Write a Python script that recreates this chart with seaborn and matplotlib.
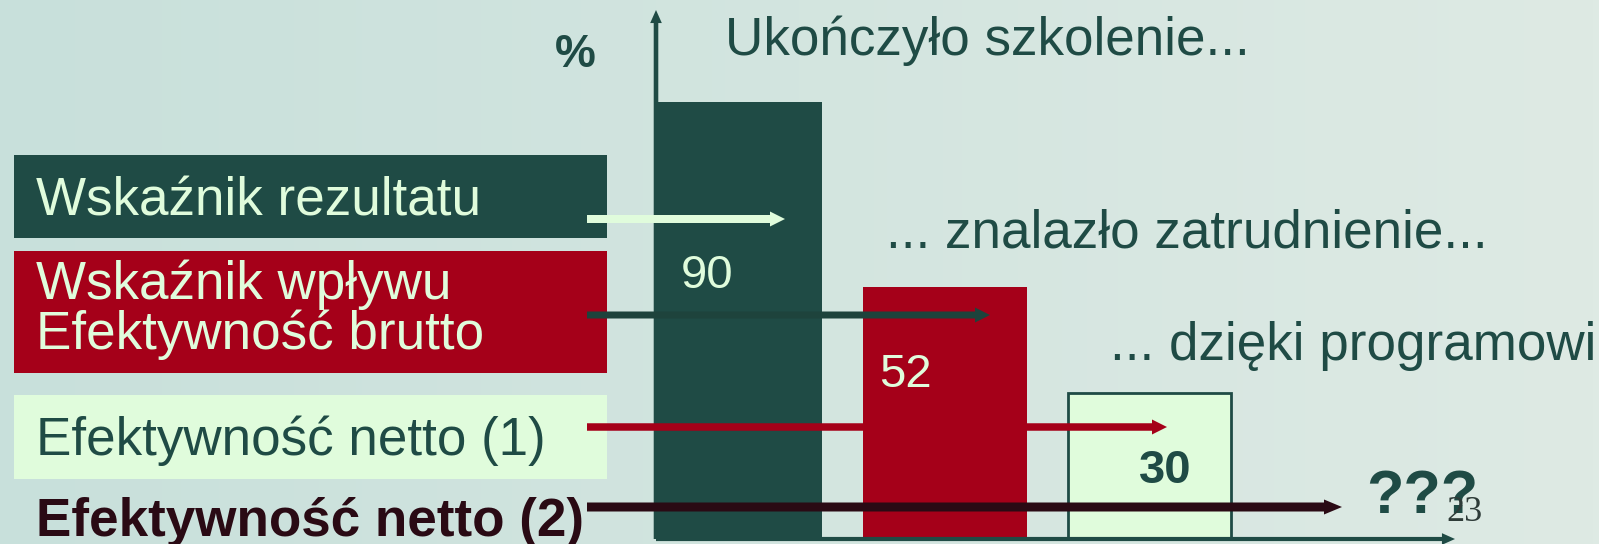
import numpy as np
import matplotlib.pyplot as plt
from matplotlib.patches import Rectangle, FancyArrowPatch
import seaborn as sns

# dane z wykresu
etapy = ["Ukończyło szkolenie...", "... znalazło zatrudnienie...", "... dzięki programowi"]
procent = [90, 52, 30]
wskazniki = ["Wskaźnik rezultatu", "Wskaźnik wpływu\nEfektywność brutto",
             "Efektywność netto (1)", "Efektywność netto (2)"]
numer_slajdu = "23"

ZIELONY = "#1F4B45"
CZERWONY = "#A50019"
JASNY = "#E0FCDC"
BORDO = "#2A0A14"
kolory_slupkow = [ZIELONY, CZERWONY, JASNY]

sns.set_theme(style="white")
plt.rcParams["font.family"] = ["Liberation Sans", "DejaVu Sans"]

W, H = 1618, 544
fig = plt.figure(figsize=(W / 100, H / 100), dpi=100)
fig.patch.set_facecolor("white")

# tlo slajdu (gradient)
bg = fig.add_axes([0, 0, 1599 / W, 1])
lewy = np.array([200, 224, 219]) / 255
prawy = np.array([222, 234, 228]) / 255
t = np.linspace(0, 1, 256)
grad = lewy[None, :] * (1 - t[:, None]) + prawy[None, :] * t[:, None]
bg.imshow(grad[None, :, :], aspect="auto", extent=[0, 1, 0, 1])
bg.axis("off")

# wykres slupkowy
x0, x1, yb, yt = 656, 1455, 539, 10
ax = fig.add_axes([x0 / W, (H - yb) / H, (x1 - x0) / W, (yb - yt) / H])
sns.barplot(x=etapy, y=procent, hue=etapy, palette=kolory_slupkow, width=0.8,
            saturation=1, legend=False, ax=ax)
for p in ax.patches:
    p.set_linewidth(0)
ax.patches[2].set_edgecolor(ZIELONY)
ax.patches[2].set_linewidth(2)
ax.set_xlim(-0.41, 3.492)
ax.set_ylim(0, 109.0)
ax.axis("off")

# osie ze strzalkami
ax.add_patch(FancyArrowPatch((0, 0), (0, 1), transform=ax.transAxes,
             arrowstyle="simple,head_length=0.94,head_width=0.84,tail_width=0.33",
             mutation_scale=10, color=ZIELONY, lw=0, shrinkA=0, shrinkB=0, clip_on=False))
ax.add_patch(FancyArrowPatch((0, 0), (1, 0), transform=ax.transAxes,
             arrowstyle="simple,head_length=0.94,head_width=0.84,tail_width=0.3",
             mutation_scale=10, color=ZIELONY, lw=0, shrinkA=0, shrinkB=0, clip_on=False))

# warstwa opisow (wspolrzedne w pikselach)
ov = fig.add_axes([0, 0, 1, 1])
ov.set_xlim(0, W)
ov.set_ylim(H, 0)
ov.axis("off")

pola = [(154.5, 238, ZIELONY), (250.7, 373, CZERWONY), (395, 478.5, JASNY)]
for g, d, c in pola:
    ov.add_patch(Rectangle((14, g), 593, d - g, color=c, lw=0))

baseline = [215, 298.6, 455.5, 536]
kolory_tekstu = [JASNY, JASNY, ZIELONY, BORDO]
for i, tekst in enumerate(wskazniki):
    for j, linia in enumerate(tekst.split("\n")):
        ov.text(36, baseline[i] + j * 50.4, linia, fontsize=38.2, color=kolory_tekstu[i],
                va="baseline", ha="left", fontweight="bold" if i == 3 else "normal")

# strzalki
strzalki = [(219, 785, JASNY, 8, 15), (315, 990, "#1E433C", 7, 15),
            (427, 1167, CZERWONY, 7.5, 15), (507, 1342, BORDO, 9, 18)]
for y, xk, c, tw, hl in strzalki:
    ov.add_patch(FancyArrowPatch((587, y), (xk, y),
                 arrowstyle=f"simple,head_length={hl*0.072:.3f},head_width={15*0.072:.3f},tail_width={tw*0.072:.3f}",
                 mutation_scale=10, color=c, lw=0, shrinkA=0, shrinkB=0))

# napisy nad slupkami
poz_etapow = [(725, 55), (886, 247), (1110, 360)]
for (x, y), tekst in zip(poz_etapow, etapy):
    ov.text(x, y, tekst, fontsize=38.2, color=ZIELONY, va="baseline", ha="left")

# wartosci
poz_wartosci = [(681, 287.5, JASNY, "normal"), (879, 387, JASNY, "normal"), (1139, 483, ZIELONY, "bold")]
for (x, y, c, fw), v in zip(poz_wartosci, procent):
    ov.text(x, y, str(v), fontsize=34, color=c, fontweight=fw, va="baseline", ha="left")

ov.text(555, 67, "%", fontsize=33, color=ZIELONY, fontweight="bold", va="baseline", ha="left")
ov.text(1366, 513, "???", fontsize=44, color=ZIELONY, fontweight="bold", va="baseline", ha="left")
ov.text(1446, 521, numer_slajdu, fontsize=26, color="#2E3B38", family=["Liberation Serif"],
        va="baseline", ha="left")

fig.savefig("out.png", dpi=100)
